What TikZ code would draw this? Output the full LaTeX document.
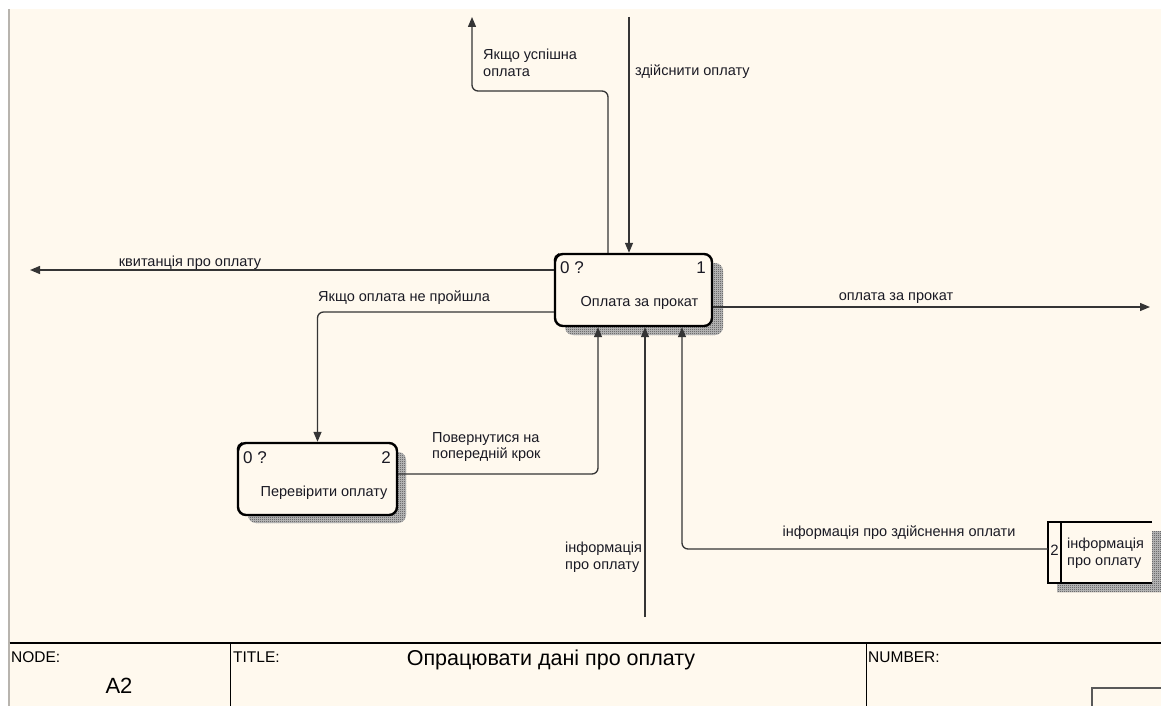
\documentclass[tikz,border=0pt]{standalone}
\usepackage{fontspec}
\setmainfont{Liberation Sans}
\usetikzlibrary{arrows.meta,patterns,calc}

\definecolor{paper}{HTML}{FFF9EE}
\definecolor{ink}{HTML}{1A1A24}
\definecolor{wire}{HTML}{353535}
\definecolor{edge}{HTML}{B8B4AE}

% fine checkerboard used for the box shadows
\pgfdeclarepatternformonly{finecheck}{\pgfqpoint{0pt}{0pt}}{\pgfqpoint{2pt}{2pt}}{\pgfqpoint{2pt}{2pt}}{%
  \pgfpathrectangle{\pgfqpoint{0pt}{0pt}}{\pgfqpoint{1pt}{1pt}}%
  \pgfpathrectangle{\pgfqpoint{1pt}{1pt}}{\pgfqpoint{1pt}{1pt}}%
  \pgfusepath{fill}}

\tikzset{
  lbl/.style={font=\fontsize{14.5}{16.5}\selectfont, text=ink, inner sep=0pt, align=left},
  numtxt/.style={font=\fontsize{17}{19}\selectfont, text=ink, inner sep=0pt},
  boxtxt/.style={font=\fontsize{14.5}{16.5}\selectfont, text=ink, inner sep=0pt},
  frametxt/.style={font=\fontsize{15.5}{17}\selectfont, text=black, inner sep=0pt, anchor=west},
  actbox/.style={draw=black, line width=2.4pt, fill=paper, rounded corners=8pt, inner sep=0pt},
  storebox/.style={inner sep=0pt},
  shadebase/.style={fill=black!24},
  shade/.style={pattern=finecheck, pattern color=black!75},
  flow/.style={draw=wire, line width=1.3pt, rounded corners=6pt},
  arr/.style={flow, -{Triangle[length=10pt,width=8pt]}},
}

\begin{document}
\begin{tikzpicture}[x=1pt,y=-1pt]
% page and sheet
\useasboundingbox (0,0) rectangle (1161,706);
\fill[white] (0,0) rectangle (1161,706);
\fill[paper] (9.5,9.5) rectangle (1161,706);
\draw[edge, line width=1.2pt] (9,9.5) -- (9,706);

% title block
\draw[black, line width=1.5pt] (9.5,643) -- (1161,643);
\draw[black, line width=1pt] (230,643) -- (230,706);
\draw[black, line width=1pt] (866,643) -- (866,706);
\draw[black!65, line width=2pt] (1092,706) -- (1092,688) -- (1161,688);
\node[frametxt] (nodelbl) at (11,657) {NODE:};
\node[font=\fontsize{22}{24}\selectfont, inner sep=0pt] (nodeid) at (119,686) {A2};
\node[frametxt] (titlelbl) at (233,657) {TITLE:};
\node[font=\fontsize{21.5}{24}\selectfont, inner sep=0pt] (titletxt) at (551,660) {Опрацювати дані про оплату};
\node[frametxt] (numlbl) at (868,657) {NUMBER:};

% shadows
\foreach \sty in {shadebase,shade}{
  \fill[\sty, rounded corners=8pt] (565,263) rectangle (723,335);
  \fill[\sty, rounded corners=8pt] (248,452) rectangle (406,523);
  \fill[\sty] (1057,531) rectangle (1161,592);
}

% activity boxes
\node[actbox, minimum width=157pt, minimum height=72pt] (b1) at (633.5,290) {};
\node[actbox, minimum width=159pt, minimum height=72pt] (b2) at (317.5,479) {};

% corner marks
\draw[black, line width=2.6pt] ([shift={(1pt,-8pt)}]b1.north west) arc[start angle=180, end angle=110, radius=7pt];
\draw[black, line width=2.6pt] ([shift={(1pt,-8pt)}]b2.north west) arc[start angle=180, end angle=110, radius=7pt];

% box texts
\node[numtxt, anchor=west] (b1id) at (560,268) {0 ?};
\node[numtxt, anchor=east] (b1no) at (706,268) {1};
\node[boxtxt] (b1name) at (639.5,303) {Оплата за прокат};
\node[numtxt, anchor=west] (b2id) at (243,458) {0 ?};
\node[numtxt, anchor=east] (b2no) at (391,458) {2};
\node[boxtxt] (b2name) at (324,493) {Перевірити оплату};

% data store
\node[storebox, minimum width=104pt, minimum height=61pt] (b3) at (1100,552.5) {};
\fill[paper] (b3.north west) rectangle (b3.south east);
\draw[black, line width=2.2pt] (b3.north east) -- (b3.north west) -- (b3.south west) -- (b3.south east);
\draw[black, line width=2.2pt] ([xshift=13pt]b3.north west) -- ([xshift=13pt]b3.south west);
\node[font=\fontsize{15}{17}\selectfont, text=ink, inner sep=0pt] (b3no) at (1054.5,550) {2};
\node[lbl, anchor=west] (b3name) at (1067,553) {інформація\\про оплату};

% free ends and bends
\coordinate (okend) at (472,17);
\coordinate (okturn) at (608,91);
\coordinate (payin) at (629,17);
\coordinate (recout) at (30,270);
\coordinate (rentout) at (1150,307);
\coordinate (failturn) at (317.5,312);
\coordinate (backturn) at (598,474);
\coordinate (infoin) at (645,617);
\coordinate (storeturn) at (682,549);

% connectors
\draw[arr] (b1.north -| okturn) -- (okturn) -| (okend);
\draw[arr] (payin) -- (payin |- b1.north);
\draw[arr] (b1.west |- recout) -- (recout);
\draw[arr] (b1.east |- rentout) -- (rentout);
\draw[arr] (b1.west |- failturn) -- (failturn) -- (b2.north);
\draw[arr] (b2.east |- backturn) -- (backturn) -- (backturn |- b1.south);
\draw[arr] (infoin) -- (infoin |- b1.south);
\draw[arr] (b3.west |- storeturn) -- (storeturn) -- (storeturn |- b1.south);

% connector labels
\node[lbl, anchor=west] (l1) at (483,63) {Якщо успішна\\оплата};
\node[lbl, anchor=west] (l2) at (635,72) {здійснити оплату};
\node[lbl] (l3) at (190,263) {квитанція про оплату};
\node[lbl, anchor=west] (l4) at (318,298) {Якщо оплата не пройшла};
\node[lbl, anchor=west] (l5) at (432,447) {Повернутися на\\попередній крок};
\node[lbl] (l6) at (896,298) {оплата за прокат};
\node[lbl, anchor=west] (l7) at (565,557) {інформація\\про оплату};
\node[lbl] (l8) at (899,533) {інформація про здійснення оплати};
\end{tikzpicture}
\end{document}
